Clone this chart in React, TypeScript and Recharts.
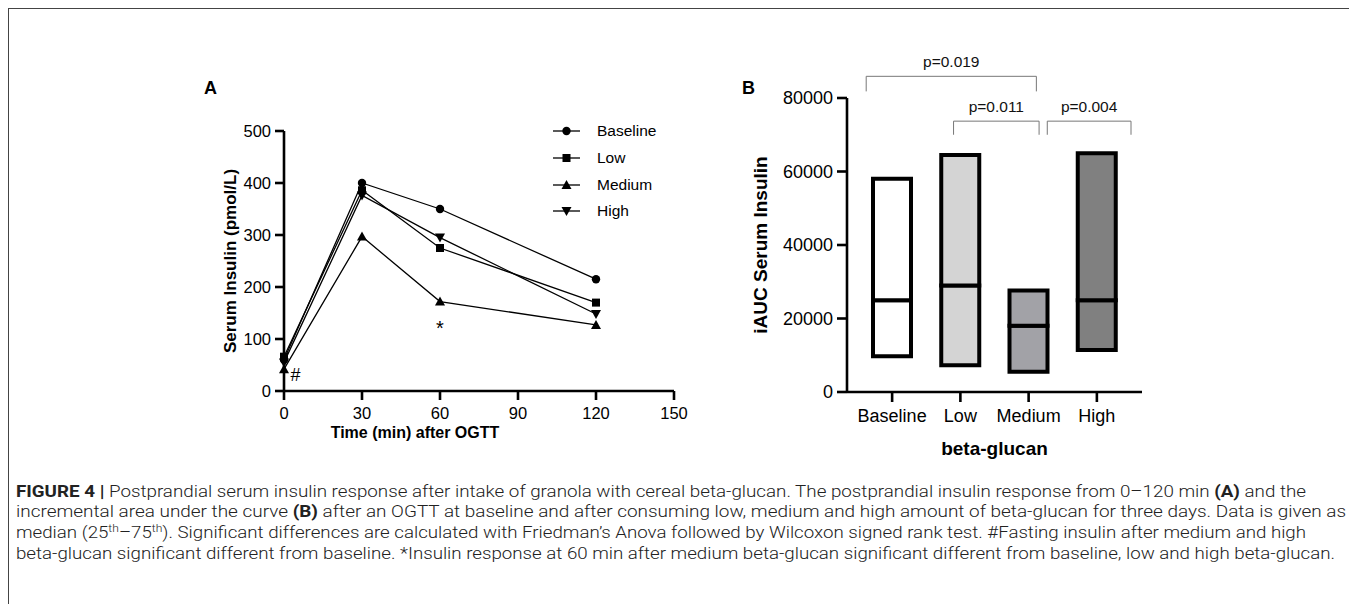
import {
  Bar,
  BarChart,
  Cell,
  Legend,
  Line,
  LineChart,
  ReferenceDot,
  ReferenceLine,
  XAxis,
  YAxis,
} from 'recharts';

// panel A: serum insulin (pmol/L) over time after OGTT
const TIME_POINTS = [0, 30, 60, 120];
const BASELINE_INSULIN = [60, 400, 350, 215];
const LOW_INSULIN = [66, 386, 275, 170];
const MEDIUM_INSULIN = [42, 297, 172, 127];
const HIGH_INSULIN = [55, 376, 295, 148];
const TIME_TICKS = [0, 30, 60, 90, 120, 150];
const INSULIN_TICKS = [0, 100, 200, 300, 400, 500];

// panel B: iAUC, median with 25th-75th
const GROUPS = ['Baseline', 'Low', 'Medium', 'High'];
const IAUC_Q1 = [9700, 7300, 5500, 11400];
const IAUC_MEDIAN = [25000, 29000, 18000, 25000];
const IAUC_Q3 = [58000, 64500, 27600, 65000];
const GROUP_FILLS = ['#ffffff', '#d4d4d4', '#a2a2a7', '#808080'];
const IAUC_TICKS = [0, 20000, 40000, 60000, 80000];

// significance brackets, x in category index units
const BRACKET_FROM = [0.09, 1.05, 2.08];
const BRACKET_TO = [1.96, 1.99, 3.0];
const BRACKET_TOP = [85900, 73700, 73700];
const BRACKET_FOOT = [81800, 70000, 70000];
const BRACKET_LABELS = ['p=0.019', 'p=0.011', 'p=0.004'];

type MarkerKind = 'circle' | 'square' | 'triangle' | 'triangleDown';

interface SeriesConfig {
  dataKey: string;
  name: string;
  marker: MarkerKind;
}

const SERIES: SeriesConfig[] = [
  { dataKey: 'baseline', name: 'Baseline', marker: 'circle' },
  { dataKey: 'low', name: 'Low', marker: 'square' },
  { dataKey: 'medium', name: 'Medium', marker: 'triangle' },
  { dataKey: 'high', name: 'High', marker: 'triangleDown' },
];

const FONT = '"Liberation Sans", Arial, sans-serif';
const CAPTION_FONT = 'Roboto, "Liberation Sans", sans-serif';

const insulinData = TIME_POINTS.map((time, i) => ({
  time,
  baseline: BASELINE_INSULIN[i],
  low: LOW_INSULIN[i],
  medium: MEDIUM_INSULIN[i],
  high: HIGH_INSULIN[i],
}));

const iaucData = GROUPS.map((group, i) => ({
  group,
  q1: IAUC_Q1[i],
  lower: IAUC_MEDIAN[i] - IAUC_Q1[i],
  upper: IAUC_Q3[i] - IAUC_MEDIAN[i],
}));

function Marker({ cx, cy, kind }: { cx: number; cy: number; kind: MarkerKind }) {
  if (cx == null || cy == null) return null;
  if (kind === 'circle') return <circle cx={cx} cy={cy} r={4.2} fill="#000" />;
  if (kind === 'square') return <rect x={cx - 4} y={cy - 4} width={8} height={8} fill="#000" />;
  if (kind === 'triangle')
    return <polygon points={`${cx},${cy - 5} ${cx + 5},${cy + 4} ${cx - 5},${cy + 4}`} fill="#000" />;
  return <polygon points={`${cx},${cy + 5} ${cx + 5},${cy - 4} ${cx - 5},${cy - 4}`} fill="#000" />;
}

function InsulinLegend() {
  return (
    <div style={{ fontFamily: FONT, fontSize: 15.5, color: '#000' }}>
      {SERIES.map((s) => (
        <div key={s.dataKey} style={{ display: 'flex', alignItems: 'center', height: 26.7 }}>
          <svg width={44} height={14}>
            <line x1={0} x2={27} y1={7} y2={7} stroke="#000" strokeWidth={1.3} />
            <Marker cx={13.5} cy={7} kind={s.marker} />
          </svg>
          <span>{s.name}</span>
        </div>
      ))}
    </div>
  );
}

const axisStroke = { stroke: '#000', strokeWidth: 2.6 };

function InsulinChart() {
  return (
    <LineChart
      width={520}
      height={400}
      data={insulinData}
      margin={{ top: 71, right: 16, left: 54, bottom: 39 }}
    >
      <XAxis
        dataKey="time"
        type="number"
        domain={[0, 150]}
        ticks={TIME_TICKS}
        axisLine={axisStroke}
        tickLine={axisStroke}
        tickSize={9}
        tickMargin={7}
        height={30}
        tick={{ fill: '#000', fontSize: 16.5, fontFamily: FONT }}
        label={{
          value: 'Time (min) after OGTT',
          position: 'center',
          dx: -64,
          dy: 26,
          fill: '#000',
          fontSize: 16,
          fontWeight: 'bold',
          fontFamily: FONT,
        }}
      />
      <YAxis
        domain={[0, 500]}
        ticks={INSULIN_TICKS}
        axisLine={axisStroke}
        tickLine={axisStroke}
        tickSize={9}
        tickMargin={4}
        width={60}
        tick={{ fill: '#000', fontSize: 16.5, fontFamily: FONT }}
        label={{
          value: 'Serum Insulin (pmol/L)',
          angle: -90,
          position: 'center',
          dx: -24,
          fill: '#000',
          fontSize: 17,
          fontWeight: 'bold',
          fontFamily: FONT,
        }}
      />
      <Legend
        layout="vertical"
        align="center"
        verticalAlign="middle"
        wrapperStyle={{ left: 383, top: 58, width: 130 }}
        content={() => <InsulinLegend />}
      />
      {SERIES.map((s) => (
        <Line
          key={s.dataKey}
          dataKey={s.dataKey}
          name={s.name}
          type="linear"
          stroke="#000"
          strokeWidth={1.3}
          isAnimationActive={false}
          activeDot={false}
          dot={(p: any) => <Marker key={`${s.dataKey}-${p.index}`} cx={p.cx} cy={p.cy} kind={s.marker} />}
        />
      ))}
      <ReferenceDot
        x={60}
        y={122}
        r={0}
        fill="none"
        stroke="none"
        label={{ value: '*', position: 'center', fill: '#000', fontSize: 20, fontFamily: FONT }}
      />
      <ReferenceDot
        x={4.4}
        y={31}
        r={0}
        fill="none"
        stroke="none"
        label={{ value: '#', position: 'center', fill: '#000', fontSize: 18, fontFamily: FONT }}
      />
    </LineChart>
  );
}

function IaucChart() {
  return (
    <BarChart
      width={420}
      height={430}
      data={iaucData}
      barSize={38}
      margin={{ top: 68, right: 18, left: 32, bottom: 28 }}
    >
      <XAxis
        dataKey="group"
        type="category"
        padding={{ left: 11, right: 11 }}
        axisLine={axisStroke}
        tickLine={axisStroke}
        tickSize={10}
        tickMargin={7}
        height={40}
        tick={{ fill: '#000', fontSize: 18, fontFamily: FONT }}
        label={{
          value: 'beta-glucan',
          position: 'center',
          dy: 36,
          fill: '#000',
          fontSize: 19,
          fontWeight: 'bold',
          fontFamily: FONT,
        }}
      />
      <XAxis
        xAxisId="ann"
        type="number"
        domain={[-0.5, 3.5]}
        allowDataOverflow
        padding={{ left: 11, right: 11 }}
        hide
      />
      <YAxis
        domain={[0, 80000]}
        ticks={IAUC_TICKS}
        axisLine={axisStroke}
        tickLine={axisStroke}
        tickSize={10}
        tickMargin={4}
        width={75}
        tick={{ fill: '#000', fontSize: 18, fontFamily: FONT }}
        label={{
          value: 'iAUC Serum Insulin',
          angle: -90,
          position: 'center',
          dx: -49,
          fill: '#000',
          fontSize: 19,
          fontWeight: 'bold',
          fontFamily: FONT,
        }}
      />
      <Bar dataKey="q1" stackId="box" fill="transparent" isAnimationActive={false} />
      <Bar dataKey="lower" stackId="box" stroke="#000" strokeWidth={4} isAnimationActive={false}>
        {GROUP_FILLS.map((f, i) => (
          <Cell key={i} fill={f} />
        ))}
      </Bar>
      <Bar dataKey="upper" stackId="box" stroke="#000" strokeWidth={4} isAnimationActive={false}>
        {GROUP_FILLS.map((f, i) => (
          <Cell key={i} fill={f} />
        ))}
      </Bar>
      {BRACKET_LABELS.map((label, i) => [
        <ReferenceLine
          key={`h${i}`}
          xAxisId="ann"
          ifOverflow="visible"
          stroke="#777"
          strokeWidth={1}
          segment={[
            { x: BRACKET_FROM[i], y: BRACKET_TOP[i] },
            { x: BRACKET_TO[i], y: BRACKET_TOP[i] },
          ]}
          label={{ value: label, position: 'top', offset: 9, fill: '#111', fontSize: 15.5, fontFamily: FONT }}
        />,
        <ReferenceLine
          key={`l${i}`}
          xAxisId="ann"
          ifOverflow="visible"
          stroke="#777"
          strokeWidth={1}
          segment={[
            { x: BRACKET_FROM[i], y: BRACKET_TOP[i] },
            { x: BRACKET_FROM[i], y: BRACKET_FOOT[i] },
          ]}
        />,
        <ReferenceLine
          key={`r${i}`}
          xAxisId="ann"
          ifOverflow="visible"
          stroke="#777"
          strokeWidth={1}
          segment={[
            { x: BRACKET_TO[i], y: BRACKET_TOP[i] },
            { x: BRACKET_TO[i], y: BRACKET_FOOT[i] },
          ]}
        />,
      ])}
    </BarChart>
  );
}

function Caption() {
  const line = {
    x: 8,
    fontFamily: CAPTION_FONT,
    fontSize: 17,
    fontWeight: 300,
    fill: '#222',
    lengthAdjust: 'spacingAndGlyphs',
  };
  return (
    <svg width={1348} height={120} style={{ position: 'absolute', left: 0, top: 460 }}>
      <text {...line} y={28.5} textLength={1290}>
        <tspan fontWeight="bold">FIGURE 4 |</tspan> Postprandial serum insulin response after intake of granola with
        cereal beta-glucan. The postprandial insulin response from 0–120 min <tspan fontWeight="bold">(A)</tspan> and
        the
      </text>
      <text {...line} y={49.2} textLength={1330}>
        incremental area under the curve <tspan fontWeight="bold">(B)</tspan> after an OGTT at baseline and after
        consuming low, medium and high amount of beta-glucan for three days. Data is given as
      </text>
      <text {...line} y={69.9} textLength={1290}>
        median (25
        <tspan dy={-6} fontSize={11}>
          th
        </tspan>
        <tspan dy={6}>–75</tspan>
        <tspan dy={-6} fontSize={11}>
          th
        </tspan>
        <tspan dy={6}>
          ). Significant differences are calculated with Friedman’s Anova followed by Wilcoxon signed rank test.
          #Fasting insulin after medium and high
        </tspan>
      </text>
      <text {...line} y={90.6} textLength={1319}>
        beta-glucan significant different from baseline. *Insulin response at 60 min after medium beta-glucan
        significant different from baseline, low and high beta-glucan.
      </text>
    </svg>
  );
}

export default function App() {
  return (
    <div style={{ position: 'relative', width: 1348, height: 596 }}>
      <div
        style={{
          position: 'absolute',
          left: -1,
          top: 0,
          width: 1345,
          height: 596,
          borderTop: '1.5px solid #444',
          borderLeft: '2px solid #444',
          borderRight: '2px solid #555',
        }}
      />
      <div
        style={{ position: 'absolute', left: 196, top: 70, fontFamily: FONT, fontWeight: 'bold', fontSize: 18 }}
      >
        A
      </div>
      <div
        style={{ position: 'absolute', left: 734, top: 70, fontFamily: FONT, fontWeight: 'bold', fontSize: 18 }}
      >
        B
      </div>
      <div style={{ position: 'absolute', left: 162, top: 52 }}>
        <InsulinChart />
      </div>
      <div style={{ position: 'absolute', left: 732, top: 22 }}>
        <IaucChart />
      </div>
      <Caption />
    </div>
  );
}
